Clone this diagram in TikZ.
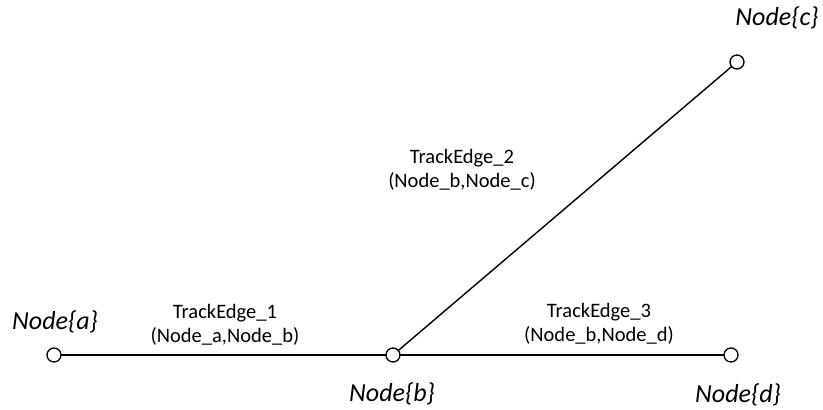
\documentclass[tikz,border=0pt]{standalone}
\usepackage{fontspec}
\setmainfont{Carlito}
\begin{document}
\begin{tikzpicture}[x=1pt,y=1pt,
  vertex/.style={circle,draw=black,fill=white,line width=1.3pt,minimum size=14pt,inner sep=0pt},
  edge/.style={draw=black,line width=1.4pt},
  nlabel/.style={font=\fontsize{26}{30}\selectfont\itshape,anchor=base,inner sep=0pt},
  elabel/.style={font=\fontsize{20.5}{24}\selectfont,align=center,inner sep=0pt}]
\useasboundingbox (0,0) rectangle (823,410);
\coordinate (pa) at (54,55);
\coordinate (pb) at (393,55);
\coordinate (pc) at (737,348);
\coordinate (pd) at (731,55);
\draw[edge] (pa) -- (pb);
\draw[edge] (pb) -- (pd);
\draw[edge] (pb) -- (pc);
\node[vertex] (a) at (pa) {};
\node[vertex] (b) at (pb) {};
\node[vertex] (c) at (pc) {};
\node[vertex] (d) at (pd) {};
\node[nlabel] (la) at (55,80) {Node\{a\}};
\node[nlabel] (lb) at (392,8) {Node\{b\}};
\node[nlabel] (lc) at (777,384) {Node\{c\}};
\node[nlabel] (ld) at (738,7) {Node\{d\}};
\node[elabel] (e1) at (225,85) {TrackEdge\_1\\(Node\_a,Node\_b)};
\node[elabel] (e2) at (462,240) {TrackEdge\_2\\(Node\_b,Node\_c)};
\node[elabel] (e3) at (599,86) {TrackEdge\_3\\(Node\_b,Node\_d)};
\end{tikzpicture}
\end{document}
